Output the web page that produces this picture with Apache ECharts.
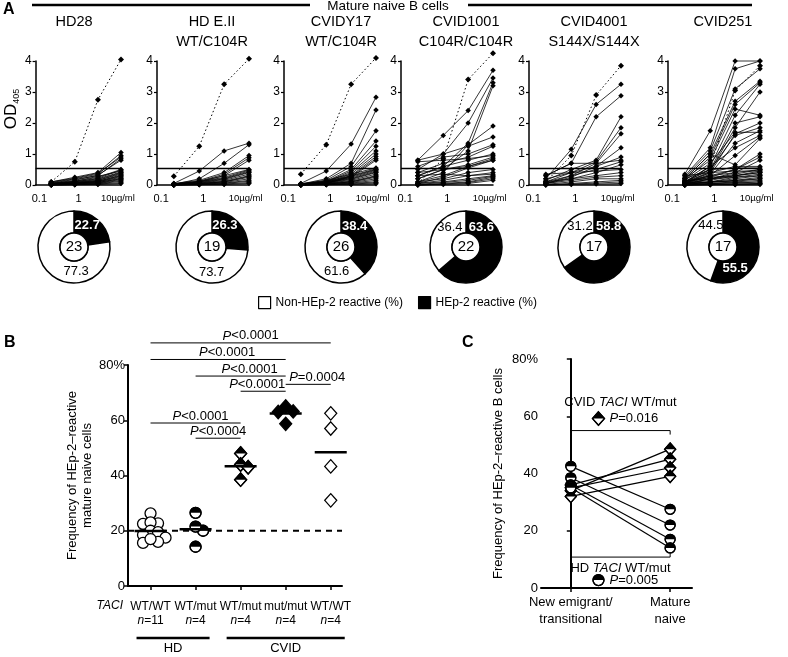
<!DOCTYPE html>
<html>
<head>
<meta charset="utf-8">
<script src="https://cdn.jsdelivr.net/npm/echarts@6.0.0/dist/echarts.min.js"></script>
<style>
html,body{margin:0;padding:0;background:#fff;}
#chart{width:788px;height:657px;}
</style>
</head>
<body>
<div id="chart"></div>
<script>
// ================= DATA =================
// Panel A
const concentrations = [0.2, 0.8, 3.1, 12];
const xTickValues = [0.1, 1, 10];
const xTickLabels = ['0.1', '1', '10µg/ml'];
const sampleNames = ['HD28', 'HD E.II', 'CVIDY17', 'CVID1001', 'CVID4001', 'CVID251'];
const genotypes = ['', 'WT/C104R', 'WT/C104R', 'C104R/C104R', 'S144X/S144X', ''];
const cloneCounts = [23, 19, 26, 22, 17, 17];
const hep2Pct = [22.7, 26.3, 38.4, 63.6, 58.8, 55.5];
const nonHep2Pct = [77.3, 73.7, 61.6, 36.4, 31.2, 44.5];
const odThreshold = 0.54;

const ctrlHD28 = [0.1, 0.75, 2.75, 4.05];
const ctrlHDEII = [0.28, 1.25, 3.25, 4.07];
const ctrlCVIDY17 = [0.35, 1.3, 3.25, 4.1];
const ctrlCVID1001 = [0.05, 0.85, 3.4, 4.25];
const ctrlCVID4001 = [0.1, 0.95, 2.9, 3.85];
const ctrlCVID251 = [0.05, 0.6, 3.05, 3.85];

const odHD28 = [
  [0.1,0.25,0.4,1.05],[0.08,0.2,0.35,0.95],[0.1,0.22,0.38,0.9],[0.06,0.18,0.3,0.85],[0.05,0.15,0.32,0.8],
  [0.05,0.12,0.25,0.5],[0.04,0.1,0.22,0.48],[0.05,0.12,0.28,0.45],[0.03,0.1,0.2,0.42],[0.04,0.08,0.18,0.4],
  [0.03,0.08,0.15,0.38],[0.02,0.06,0.15,0.35],[0.03,0.07,0.12,0.32],[0.02,0.05,0.12,0.3],[0.02,0.06,0.1,0.28],
  [0.02,0.05,0.1,0.25],[0.01,0.04,0.08,0.22],[0.01,0.03,0.08,0.2],[0.01,0.04,0.06,0.18],[0.01,0.02,0.05,0.15],
  [0.0,0.02,0.04,0.12],[0.0,0.01,0.03,0.08],[0.0,0.01,0.02,0.05]
];
const odHDEII = [
  [0.05,0.45,1.1,1.35],[0.02,0.2,0.7,1.3],[0.05,0.15,0.4,0.95],[0.03,0.12,0.35,0.88],[0.02,0.1,0.3,0.8],
  [0.04,0.12,0.3,0.5],[0.03,0.1,0.25,0.48],[0.02,0.1,0.22,0.45],[0.03,0.08,0.2,0.42],[0.02,0.07,0.18,0.4],
  [0.02,0.06,0.15,0.35],[0.01,0.05,0.12,0.3],[0.01,0.05,0.1,0.28],[0.01,0.04,0.1,0.25],[0.0,0.03,0.08,0.2],
  [0.0,0.03,0.06,0.15],[0.0,0.02,0.05,0.12],[0.0,0.01,0.03,0.08],[0.0,0.01,0.02,0.05]
];
const odCVIDY17 = [
  [0.05,0.45,1.32,2.83],[0.03,0.2,0.7,2.42],[0.02,0.15,0.6,1.75],[0.03,0.12,0.5,1.42],[0.02,0.1,0.45,1.25],
  [0.02,0.1,0.4,1.1],[0.01,0.08,0.35,1.0],[0.02,0.06,0.3,0.92],[0.01,0.05,0.28,0.85],[0.01,0.05,0.25,0.8],
  [0.04,0.15,0.35,0.55],[0.03,0.12,0.3,0.52],[0.03,0.1,0.28,0.5],[0.02,0.1,0.25,0.48],[0.02,0.08,0.22,0.45],
  [0.02,0.08,0.2,0.42],[0.01,0.06,0.18,0.4],[0.01,0.05,0.15,0.35],[0.01,0.05,0.12,0.3],[0.01,0.04,0.1,0.28],
  [0.0,0.03,0.1,0.25],[0.0,0.03,0.08,0.2],[0.0,0.02,0.06,0.15],[0.0,0.02,0.05,0.1],[0.0,0.01,0.03,0.07],
  [0.0,0.01,0.02,0.04]
];
const odCVID1001 = [
  [0.8,1.6,2.4,3.7],[0.5,1.0,2.0,3.45],[0.3,0.6,1.35,3.3],[0.2,0.5,1.1,3.2],[0.1,0.4,1.3,1.9],
  [0.8,1.0,1.25,1.55],[0.6,0.9,1.0,1.3],[0.4,0.7,0.9,1.25],[0.3,0.6,0.8,1.0],[0.75,0.8,0.85,0.95],
  [0.2,0.5,0.65,0.9],[0.1,0.3,0.6,0.85],[0.05,0.25,0.55,0.8],[0.4,0.5,0.6,0.8],[0.1,0.2,0.4,0.5],
  [0.05,0.15,0.3,0.4],[0.3,0.35,0.3,0.35],[0.05,0.1,0.2,0.3],[0.02,0.08,0.15,0.28],[0.0,0.05,0.1,0.25],
  [0.0,0.03,0.08,0.2],[0.0,0.02,0.05,0.15]
];
const odCVID4001 = [
  [0.2,1.15,2.6,3.25],[0.3,0.7,2.2,2.88],[0.15,0.5,0.8,2.2],[0.1,0.4,0.75,1.85],[0.05,0.3,0.7,1.65],
  [0.05,0.25,0.6,1.2],[0.3,0.7,0.7,0.8],[0.2,0.4,0.6,0.9],[0.1,0.3,0.5,0.75],[0.05,0.2,0.4,0.65],
  [0.35,0.4,0.45,0.5],[0.1,0.2,0.3,0.4],[0.05,0.15,0.25,0.3],[0.02,0.1,0.2,0.2],[0.01,0.05,0.1,0.15],
  [0.0,0.03,0.06,0.1],[0.0,0.02,0.03,0.05]
];
const odCVID251 = [
  [0.35,1.75,4.0,4.0],[0.3,1.2,3.75,4.0],[0.25,1.1,3.1,3.75],[0.2,1.0,2.7,3.35],[0.15,0.9,2.6,3.3],
  [0.2,0.8,2.45,2.25],[0.1,0.6,2.25,3.25],[0.1,0.5,2.0,2.2],[0.05,0.45,1.85,3.0],[0.15,0.7,1.7,1.7],
  [0.05,0.4,1.65,2.0],[0.1,0.5,1.6,1.85],[0.05,0.35,1.35,1.75],[0.1,0.6,1.2,1.6],[0.05,0.3,0.95,1.55],
  [0.2,1.0,0.65,1.5],[0.05,0.25,0.5,1.0],[0.1,0.3,0.5,0.9],[0.02,0.2,0.4,0.8],[0.1,0.4,0.6,0.6],
  [0.2,0.5,0.55,0.55],[0.1,0.3,0.4,0.5],[0.05,0.2,0.35,0.5],[0.3,0.4,0.45,0.45],[0.05,0.15,0.3,0.45],
  [0.02,0.2,0.3,0.4],[0.1,0.25,0.3,0.4],[0.05,0.1,0.25,0.35],[0.02,0.1,0.2,0.3],[0.15,0.2,0.25,0.3],
  [0.01,0.1,0.15,0.25],[0.02,0.08,0.15,0.2],[0.05,0.1,0.12,0.2],[0.0,0.05,0.1,0.15],[0.0,0.04,0.08,0.1],
  [0.02,0.05,0.06,0.1],[0.0,0.02,0.04,0.05],[0.0,0.01,0.02,0.05],[0.0,0.01,0.01,0.02]
];
const controlSets = [ctrlHD28, ctrlHDEII, ctrlCVIDY17, ctrlCVID1001, ctrlCVID4001, ctrlCVID251];
const cloneSets = [odHD28, odHDEII, odCVIDY17, odCVID1001, odCVID4001, odCVID251];

// Panel B
const bGenotypes = ['WT/WT', 'WT/mut', 'WT/mut', 'mut/mut', 'WT/WT'];
const bHD_WTWT = [26.3, 22.7, 22.5, 23, 20, 19.5, 18.5, 17.5, 16, 15.6, 17];
const bHD_WTmut = [26.5, 20, 21.5, 14.2];
const bCVID_WTmut = [48, 44, 43, 38.5];
const bCVID_mutmut = [63.2, 65, 63, 58.7];
const bCVID_WTWT = [62.5, 57, 43.3, 31];
const bGroups = [bHD_WTWT, bHD_WTmut, bCVID_WTmut, bCVID_mutmut, bCVID_WTWT];
const bCohortNames = ['HD', 'CVID'];
const bCohortFirst = [0, 2];
const bCohortLast = [1, 4];
const bReference = 20;
const sigFrom = [0, 0, 1, 2, 3, 0, 1];
const sigTo = [4, 3, 3, 3, 4, 2, 2];
const sigP = ['<0.0001', '<0.0001', '<0.0001', '<0.0001', '=0.0004', '<0.0001', '<0.0004'];

// Panel C
const cCategories = ['New emigrant/\ntransitional', 'Mature\nnaive'];
const cHD_new = [42.5, 38.5, 36, 35];
const cHD_mature = [27.5, 22, 17, 14];
const cCVID_new = [34, 36, 35, 32];
const cCVID_mature = [48.5, 45, 42, 39];
const cCohortNames = ['CVID', 'HD'];
const cPValues = ['0.016', '0.005'];

// ================= LAYOUT / STYLE =================
const FONT = '"Liberation Sans", Arial, Helvetica, sans-serif';
const A_LEFT = [29, 157, 284, 401, 529, 668];
const A_TOP = 61, A_W = 92, A_H = 124;
const DONUT_X = [74, 212, 341, 466, 594, 723];
const DONUT_Y = 247;
const DONUT_R = [14, 36];
const LABEL_ANGLES = [[32, 175], [31, 181], [33, 190], [38, 320], [36, 326], [151, 331]];
const LABEL_R = 25;
const GRID_B = {left: 128, top: 365, width: 214, height: 221};
const GRID_C = {left: 541, top: 359, width: 151, height: 229};
const SIG_LEVELS = [88, 82, 76, 70.5, 73, 59, 53.5];
const SIG_TEXT_DX = [10, 9, 9, -6, 9, 5, 0];
const C_BRACKETS = [55, 10.8];
const B_MARKERS = ['circleOpen', 'circleHalf', 'diamondHalf', 'diamondFilled', 'diamondOpen'];
const C_MARKERS = ['circleHalf', 'diamondHalf'];

// ================= HELPERS =================
function marker(type, cx, cy, r) {
  const lw = 1.3;
  if (type === 'circleOpen') {
    return {type: 'circle', shape: {cx, cy, r}, style: {fill: '#fff', stroke: '#000', lineWidth: lw}};
  }
  if (type === 'circleHalf') {
    return {type: 'group', children: [
      {type: 'circle', shape: {cx, cy, r}, style: {fill: '#fff', stroke: '#000', lineWidth: lw}},
      {type: 'sector', shape: {cx, cy, r0: 0, r, startAngle: Math.PI, endAngle: 2 * Math.PI}, style: {fill: '#000'}},
      {type: 'circle', shape: {cx, cy, r}, style: {fill: 'none', stroke: '#000', lineWidth: lw}}
    ]};
  }
  const w = r, h = r * 1.12;
  const pts = [[cx, cy - h], [cx + w, cy], [cx, cy + h], [cx - w, cy]];
  if (type === 'diamondOpen') {
    return {type: 'polygon', shape: {points: pts}, style: {fill: '#fff', stroke: '#000', lineWidth: lw}};
  }
  if (type === 'diamondFilled') {
    return {type: 'polygon', shape: {points: pts}, style: {fill: '#000', stroke: '#000', lineWidth: lw}};
  }
  return {type: 'group', children: [
    {type: 'polygon', shape: {points: pts}, style: {fill: '#fff', stroke: '#000', lineWidth: lw}},
    {type: 'polygon', shape: {points: [[cx, cy - h], [cx + w, cy], [cx - w, cy]]}, style: {fill: '#000'}},
    {type: 'polygon', shape: {points: pts}, style: {fill: 'none', stroke: '#000', lineWidth: lw}}
  ]};
}

function swarmOffsets(vals, pxPerUnit, minDist, step) {
  const idx = vals.map((_, i) => i).sort((a, b) => vals[b] - vals[a]);
  const placed = [];
  const offs = vals.map(() => 0);
  idx.forEach(i => {
    const y = vals[i] * pxPerUnit;
    for (let k = 0; k < 80; k++) {
      const dx = k === 0 ? 0 : (k % 2 ? 1 : -1) * Math.ceil(k / 2) * step;
      if (placed.every(p => Math.hypot(p[0] - dx, p[1] - y) >= minDist)) {
        offs[i] = dx; placed.push([dx, y]); break;
      }
    }
  });
  return offs;
}
const mean = a => a.reduce((s, v) => s + v, 0) / a.length;

const baseText = {fontFamily: FONT, color: '#000'};
const pRich = {
  i: {fontStyle: 'italic', fontSize: 13, fontFamily: FONT, fill: '#000'},
  n: {fontSize: 13, fontFamily: FONT, fill: '#000'}
};

// ================= BUILD =================
const grids = [], xAxes = [], yAxes = [], series = [], graphics = [];

function fmtX(v) {
  for (let k = 0; k < xTickValues.length; k++) {
    if (Math.abs(Math.log10(v) - Math.log10(xTickValues[k])) < 0.01) {
      return k === xTickValues.length - 1 ? '{s|' + xTickLabels[k] + '}' : xTickLabels[k];
    }
  }
  return '';
}

for (let i = 0; i < 6; i++) {
  grids.push({left: A_LEFT[i], top: A_TOP, width: A_W, height: A_H});
  xAxes.push({
    gridIndex: i, type: 'log', logBase: 10, min: 0.08, max: 12,
    axisLine: {show: true, lineStyle: {color: '#000', width: 1.5}},
    axisTick: {show: false},
    splitLine: {show: false},
    axisLabel: {customValues: xTickValues, formatter: fmtX, fontSize: 11, margin: 8, ...baseText,
      rich: {s: {fontSize: 9.5, fontFamily: FONT, color: '#000'}}}
  });
  yAxes.push({
    gridIndex: i, type: 'value', min: 0, max: 4, interval: 1,
    axisLine: {show: true, lineStyle: {color: '#000', width: 1.5}},
    axisTick: {show: true, length: 3, lineStyle: {color: '#000', width: 1.2}},
    splitLine: {show: false},
    axisLabel: {fontSize: 12, margin: 4, ...baseText},
    name: i === 0 ? 'OD{s|405}' : '',
    nameLocation: 'middle', nameRotate: 90, nameGap: 13,
    nameTextStyle: {fontSize: 17, fontFamily: FONT, color: '#000', lineHeight: 20, padding: [0, 0, 0, 28],
      rich: {s: {fontSize: 9, fontFamily: FONT, color: '#000', verticalAlign: 'bottom', lineHeight: 20}}}
  });
  // positive control (dotted)
  series.push({
    type: 'line', xAxisIndex: i, yAxisIndex: i, silent: true, clip: false,
    data: concentrations.map((c, k) => [c, controlSets[i][k]]),
    symbol: 'diamond', symbolSize: 6,
    itemStyle: {color: '#000'},
    lineStyle: {color: '#000', width: 1, type: [1.5, 2.5]},
    markLine: {silent: true, symbol: ['none', 'none'], label: {show: false},
      lineStyle: {color: '#000', type: 'solid', width: 1.4},
      data: [{yAxis: odThreshold}]},
    z: 3
  });
  cloneSets[i].forEach(clone => {
    series.push({
      type: 'line', xAxisIndex: i, yAxisIndex: i, silent: true, clip: false,
      data: concentrations.map((c, k) => [c, clone[k]]),
      symbol: 'diamond', symbolSize: 5.5,
      itemStyle: {color: '#000'},
      lineStyle: {color: '#000', width: 0.8},
      z: 2
    });
  });
  // donut
  const cx = DONUT_X[i];
  series.push({
    type: 'pie', silent: true, center: [cx, DONUT_Y], radius: DONUT_R, startAngle: 90, clockwise: true,
    avoidLabelOverlap: false,
    itemStyle: {borderColor: '#000', borderWidth: 1.5},
    label: {show: true, position: 'inside', formatter: '{c}', fontSize: 13, fontFamily: FONT},
    labelLine: {show: false},
    labelLayout: (p) => {
      const a = LABEL_ANGLES[i][p.dataIndex] * Math.PI / 180;
      return {x: cx + LABEL_R * Math.sin(a), y: DONUT_Y - LABEL_R * Math.cos(a), align: 'center', verticalAlign: 'middle'};
    },
    data: [
      {name: 'HEp-2 reactive (%)', value: hep2Pct[i], itemStyle: {color: '#000'},
        label: {color: '#fff', fontWeight: 'bold'}},
      {name: 'Non-HEp-2 reactive (%)', value: nonHep2Pct[i], itemStyle: {color: '#fff'},
        label: {color: '#000'}}
    ]
  });
  series.push({
    type: 'pie', silent: true, center: [cx, DONUT_Y], radius: [0, DONUT_R[0]],
    itemStyle: {color: '#fff', borderColor: '#000', borderWidth: 1.5},
    label: {show: true, position: 'center', formatter: String(cloneCounts[i]), fontSize: 15, fontFamily: FONT, color: '#000'},
    labelLine: {show: false},
    data: [{name: 'clones', value: cloneCounts[i]}]
  });
  // titles
  graphics.push({type: 'text', x: cx, y: 12, silent: true,
    style: {text: genotypes[i] ? sampleNames[i] + '\n' + genotypes[i] : sampleNames[i],
      align: 'center', verticalAlign: 'top', fontSize: 14.5, lineHeight: 20, fontFamily: FONT, fill: '#000'}});
}

// ---- Panel B ----
grids.push(GRID_B);
xAxes.push({
  gridIndex: 6, type: 'value', min: 0, max: 9.5,
  axisLine: {show: true, lineStyle: {color: '#000', width: 2}},
  axisTick: {show: true, customValues: [1, 3, 5, 7, 9], length: 4, lineStyle: {color: '#000', width: 1.5}},
  splitLine: {show: false},
  axisLabel: {
    customValues: [1, 3, 5, 7, 9], margin: 14,
    formatter: (v) => {
      const g = Math.round((v - 1) / 2);
      if (g < 0 || g > 4 || Math.abs(v - (2 * g + 1)) > 0.01) return '';
      return '{a|' + bGenotypes[g] + '}\n{i|n}{a|=' + bGroups[g].length + '}';
    },
    rich: {
      a: {fontSize: 12, lineHeight: 14, fontFamily: FONT, color: '#000'},
      i: {fontSize: 12, lineHeight: 14, fontFamily: FONT, color: '#000', fontStyle: 'italic'}
    }
  }
});
yAxes.push({
  gridIndex: 6, type: 'value', min: 0, max: 80, interval: 20,
  axisLine: {show: true, lineStyle: {color: '#000', width: 2}},
  axisTick: {show: true, length: 4, lineStyle: {color: '#000', width: 1.5}},
  splitLine: {show: false},
  axisLabel: {fontSize: 13, margin: 3, ...baseText, formatter: v => v === 80 ? '80%' : String(v)},
  name: 'Frequency of HEp-2–reactive\nmature naive cells',
  nameLocation: 'middle', nameRotate: 90, nameGap: 22,
  nameTextStyle: {fontSize: 13, lineHeight: 15, fontFamily: FONT, color: '#000'}
});
series.push({
  type: 'line', xAxisIndex: 6, yAxisIndex: 6, silent: true, symbol: 'none',
  data: [[0, bReference], [9.5, bReference]],
  lineStyle: {color: '#000', width: 2, type: [6, 5]}, z: 1
});
const bPxPerUnit = GRID_B.height / 80;
const bPoints = [];
bGroups.forEach((vals, g) => {
  const offs = swarmOffsets(vals, bPxPerUnit, 7.5, 2.5);
  vals.forEach((v, k) => bPoints.push([2 * g + 1, v, g, offs[k]]));
});
series.push({
  type: 'custom', xAxisIndex: 6, yAxisIndex: 6, silent: true, clip: false, z: 3,
  data: bPoints,
  renderItem: (params, api) => {
    const p = api.coord([api.value(0), api.value(1)]);
    const t = B_MARKERS[api.value(2)];
    return marker(t, p[0] + api.value(3), p[1], t.indexOf('circle') === 0 ? 5.5 : 6);
  }
});
series.push({
  type: 'custom', xAxisIndex: 6, yAxisIndex: 6, silent: true, clip: false, z: 4,
  data: bGroups.map((g, i) => [2 * i + 1, mean(g)]),
  renderItem: (params, api) => {
    const p = api.coord([api.value(0), api.value(1)]);
    return {type: 'line', shape: {x1: p[0] - 16, y1: p[1], x2: p[0] + 16, y2: p[1]}, style: {stroke: '#000', lineWidth: 2.5}};
  }
});
series.push({
  type: 'custom', xAxisIndex: 6, yAxisIndex: 6, silent: true, clip: false, z: 4,
  data: sigFrom.map((f, i) => [2 * f + 1, SIG_LEVELS[i]]),
  renderItem: (params, api) => {
    const i = params.dataIndex;
    const p1 = api.coord([2 * sigFrom[i] + 1, SIG_LEVELS[i]]);
    const p2 = api.coord([2 * sigTo[i] + 1, SIG_LEVELS[i]]);
    return {type: 'group', children: [
      {type: 'line', shape: {x1: p1[0], y1: p1[1], x2: p2[0], y2: p2[1]}, style: {stroke: '#000', lineWidth: 1}},
      {type: 'text', style: {x: (p1[0] + p2[0]) / 2 + SIG_TEXT_DX[i], y: p1[1] - 0.5, text: '{i|P}{n|' + sigP[i] + '}', rich: pRich,
        align: 'center', verticalAlign: 'bottom', fontSize: 13, fontFamily: FONT, fill: '#000'}}
    ]};
  }
});
series.push({
  type: 'custom', xAxisIndex: 6, yAxisIndex: 6, silent: true, clip: false, z: 4,
  data: bCohortNames.map((n, i) => [2 * bCohortFirst[i] + 1, 0]),
  renderItem: (params, api) => {
    const i = params.dataIndex;
    const p1 = api.coord([2 * bCohortFirst[i] + 1, 0]);
    const p2 = api.coord([2 * bCohortLast[i] + 1, 0]);
    const y = p1[1] + 52;
    return {type: 'group', children: [
      {type: 'line', shape: {x1: p1[0] - 14, y1: y, x2: p2[0] + 14, y2: y}, style: {stroke: '#000', lineWidth: 2.5}},
      {type: 'text', style: {x: (p1[0] + p2[0]) / 2, y: y + 4, text: bCohortNames[i], align: 'center', verticalAlign: 'top',
        fontSize: 13, fontFamily: FONT, fill: '#000'}}
    ]};
  }
});

// ---- Panel C ----
grids.push(GRID_C);
xAxes.push({
  gridIndex: 7, type: 'value', min: -0.3, max: 1.22,
  axisLine: {show: true, lineStyle: {color: '#000', width: 2}},
  axisTick: {show: true, customValues: [0, 1], length: 4, lineStyle: {color: '#000', width: 1.5}},
  splitLine: {show: false},
  axisLabel: {customValues: [0, 1], margin: 6, fontSize: 13, lineHeight: 17, ...baseText,
    formatter: v => (Math.abs(v) < 0.01 ? cCategories[0] : (Math.abs(v - 1) < 0.01 ? cCategories[1] : ''))}
});
yAxes.push({
  gridIndex: 7, type: 'value', min: 0, max: 80, interval: 20,
  axisLine: {show: true, lineStyle: {color: '#000', width: 2}},
  axisTick: {show: true, length: 4, lineStyle: {color: '#000', width: 1.5}},
  splitLine: {show: false},
  axisLabel: {fontSize: 13, margin: 3, ...baseText, formatter: v => v === 80 ? '80%' : String(v)},
  name: 'Frequency of HEp-2–reactive B cells',
  nameLocation: 'middle', nameRotate: 90, nameGap: 36,
  nameTextStyle: {fontSize: 13, fontFamily: FONT, color: '#000'}
});
cHD_new.forEach((v, k) => series.push({
  type: 'line', xAxisIndex: 7, yAxisIndex: 7, silent: true, symbol: 'none',
  data: [[0, v], [1, cHD_mature[k]]], lineStyle: {color: '#000', width: 1.2}, z: 2
}));
cCVID_new.forEach((v, k) => series.push({
  type: 'line', xAxisIndex: 7, yAxisIndex: 7, silent: true, symbol: 'none',
  data: [[0, v], [1, cCVID_mature[k]]], lineStyle: {color: '#000', width: 1.2}, z: 2
}));
const cPoints = [];
cCVID_new.forEach((v, k) => { cPoints.push([0, v, 1]); cPoints.push([1, cCVID_mature[k], 1]); });
cHD_new.forEach((v, k) => { cPoints.push([0, v, 0]); cPoints.push([1, cHD_mature[k], 0]); });
series.push({
  type: 'custom', xAxisIndex: 7, yAxisIndex: 7, silent: true, clip: false, z: 3,
  data: cPoints,
  renderItem: (params, api) => {
    const p = api.coord([api.value(0), api.value(1)]);
    const t = C_MARKERS[api.value(2)];
    return marker(t, p[0], p[1], t === 'circleHalf' ? 5 : 5.5);
  }
});
series.push({
  type: 'custom', xAxisIndex: 7, yAxisIndex: 7, silent: true, clip: false, z: 4,
  data: C_BRACKETS.map(b => [0.5, b]),
  renderItem: (params, api) => {
    const i = params.dataIndex;
    const p1 = api.coord([0, C_BRACKETS[i]]);
    const p2 = api.coord([1, C_BRACKETS[i]]);
    const y = p1[1];
    const dir = i === 0 ? 1 : -1;
    const mid = (p1[0] + p2[0]) / 2;
    const line1Y = i === 0 ? y - 28 : y + 11;
    const line2Y = i === 0 ? y - 12 : y + 23;
    const sym = marker(C_MARKERS[i === 0 ? 1 : 0], mid - 22, line2Y, i === 0 ? 6 : 5.5);
    return {type: 'group', children: [
      {type: 'polyline', shape: {points: [[p1[0], y + 4 * dir], [p1[0], y], [p2[0], y], [p2[0], y + 4 * dir]]},
        style: {stroke: '#000', lineWidth: 1, fill: 'none'}},
      {type: 'text', style: {x: mid, y: line1Y, text: '{n|' + cCohortNames[i] + ' }{i|TACI}{n| WT/mut}', rich: pRich,
        align: 'center', verticalAlign: 'middle', fontSize: 13, fontFamily: FONT, fill: '#000'}},
      sym,
      {type: 'text', style: {x: mid - 11, y: line2Y, text: '{i|P}{n|=' + cPValues[i] + '}', rich: pRich,
        align: 'left', verticalAlign: 'middle', fontSize: 13, fontFamily: FONT, fill: '#000'}}
    ]};
  }
});

// ---- Decorations ----
graphics.push(
  {type: 'text', x: 3, y: 2, silent: true, style: {text: 'A', fontSize: 16, fontWeight: 'bold', fontFamily: FONT, fill: '#000', verticalAlign: 'top'}},
  {type: 'text', x: 4, y: 335, silent: true, style: {text: 'B', fontSize: 16, fontWeight: 'bold', fontFamily: FONT, fill: '#000', verticalAlign: 'top'}},
  {type: 'text', x: 462, y: 335, silent: true, style: {text: 'C', fontSize: 16, fontWeight: 'bold', fontFamily: FONT, fill: '#000', verticalAlign: 'top'}},
  {type: 'line', silent: true, shape: {x1: 32, y1: 5, x2: 310, y2: 5}, style: {stroke: '#000', lineWidth: 2.5}},
  {type: 'line', silent: true, shape: {x1: 468, y1: 5, x2: 752, y2: 5}, style: {stroke: '#000', lineWidth: 2.5}},
  {type: 'text', x: 388, y: 6, silent: true, style: {text: 'Mature naive B cells', align: 'center', verticalAlign: 'middle',
    fontSize: 13.5, fontFamily: FONT, fill: '#000'}},
  {type: 'text', x: 123, y: 606, silent: true, style: {text: 'TACI', align: 'right', verticalAlign: 'middle',
    fontSize: 12, fontStyle: 'italic', fontFamily: FONT, fill: '#000'}}
);

const option = {
  animation: false,
  textStyle: {fontFamily: FONT},
  grid: grids,
  xAxis: xAxes,
  yAxis: yAxes,
  legend: {
    data: ['Non-HEp-2 reactive (%)', 'HEp-2 reactive (%)'],
    left: 258, top: 296, padding: 0, icon: 'rect', itemWidth: 12, itemHeight: 12, itemGap: 15,
    selectedMode: false,
    itemStyle: {borderColor: '#000', borderWidth: 1.2},
    textStyle: {fontSize: 12, fontFamily: FONT, color: '#000'}
  },
  graphic: graphics,
  series: series
};

const chart = echarts.init(document.getElementById('chart'), null, {renderer: 'canvas'});
chart.setOption(option);
</script>
</body>
</html>
